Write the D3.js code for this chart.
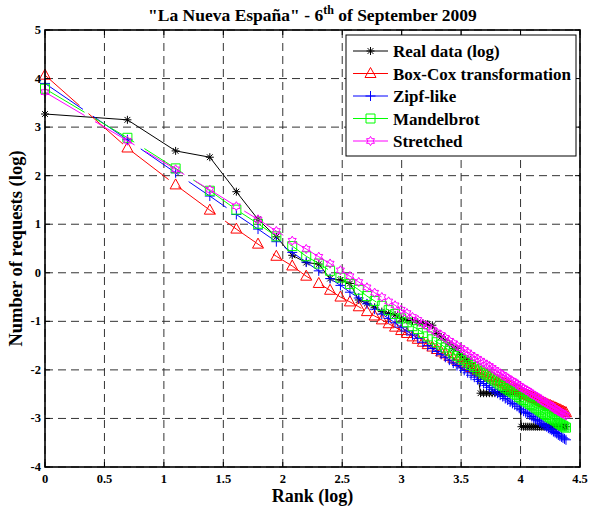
<!DOCTYPE html>
<html><head><meta charset="utf-8">
<script src="https://cdn.jsdelivr.net/npm/d3@7"></script>
<style>body{margin:0;background:#fff}</style></head>
<body><svg id="c" width="590" height="512"></svg>
<script>
const ranks = [1,2,3,4,5,6,7,8,9,10,11,12,13,14,15,16,17,18,19,20,
21,22,23,24,25,26,27,28,29,30,31,32,33,34,35,36,37,38,39,40,
41,42,43,44,45,46,47,48,49,50,51,52,53,54,55,56,57,58,59,60,
61,62,63,64,65,66,67,68,69,70,71,72,73,74,75,76,77,78,79,80];

const realData = [3.27,3.15,2.51,2.38,1.67,1.10,0.74,0.36,0.21,0.18,
-0.12,-0.15,-0.22,-0.56,-0.63,-0.71,-0.80,-0.84,-0.87,-0.94,
-0.98,-0.99,-1.02,-1.04,-1.06,-1.08,-1.25,-1.32,-1.39,-1.47,
-1.56,-1.56,-1.68,-1.78,-1.78,-1.92,-2.07,-2.07,-2.48,-2.48,
-2.48,-2.48,-2.48,-2.48,-2.48,-2.48,-2.48,-2.48,-2.48,-2.48,
-2.48,-2.48,-2.48,-2.48,-3.17,-3.17,-3.17,-3.17,-3.17,-3.17,
-3.17,-3.17,-3.17,-3.17,-3.17,-3.17,-3.17,-3.17,-3.17,-3.17,
-3.17,-3.17,-3.17,-3.17,-3.17,-3.17,-3.17,-3.17,-3.17,-3.17];

const boxCox = [4.07,2.57,1.81,1.29,0.90,0.59,0.34,0.14,-0.07,-0.22,
-0.36,-0.50,-0.60,-0.70,-0.80,-0.89,-0.97,-1.05,-1.12,-1.19,
-1.25,-1.32,-1.37,-1.43,-1.48,-1.53,-1.58,-1.63,-1.67,-1.72,
-1.76,-1.80,-1.84,-1.87,-1.91,-1.95,-1.98,-2.01,-2.05,-2.08,
-2.11,-2.14,-2.16,-2.19,-2.22,-2.24,-2.27,-2.29,-2.32,-2.34,
-2.37,-2.39,-2.41,-2.43,-2.46,-2.48,-2.50,-2.52,-2.54,-2.56,
-2.58,-2.59,-2.61,-2.63,-2.65,-2.67,-2.68,-2.70,-2.72,-2.73,
-2.75,-2.76,-2.78,-2.79,-2.81,-2.82,-2.84,-2.85,-2.87,-2.88];

const zipfLike = [3.90,2.74,2.06,1.58,1.20,0.90,0.64,0.42,0.22,0.04,
-0.12,-0.26,-0.40,-0.52,-0.64,-0.75,-0.85,-0.94,-1.03,-1.12,
-1.20,-1.28,-1.35,-1.43,-1.50,-1.56,-1.62,-1.68,-1.74,-1.80,
-1.86,-1.91,-1.96,-2.01,-2.06,-2.11,-2.15,-2.20,-2.24,-2.28,
-2.32,-2.36,-2.40,-2.44,-2.48,-2.52,-2.55,-2.59,-2.62,-2.66,
-2.69,-2.72,-2.75,-2.79,-2.82,-2.85,-2.88,-2.90,-2.93,-2.96,
-2.99,-3.02,-3.04,-3.07,-3.10,-3.12,-3.15,-3.17,-3.20,-3.22,
-3.24,-3.27,-3.29,-3.31,-3.34,-3.36,-3.38,-3.40,-3.42,-3.44];

const mandelbrot = [3.79,2.78,2.15,1.69,1.30,1.01,0.75,0.55,0.34,0.19,
0.04,-0.10,-0.23,-0.35,-0.48,-0.58,-0.68,-0.77,-0.85,-0.94,
-1.02,-1.10,-1.16,-1.24,-1.31,-1.37,-1.43,-1.48,-1.54,-1.60,
-1.66,-1.71,-1.76,-1.80,-1.85,-1.90,-1.94,-1.99,-2.03,-2.07,
-2.10,-2.14,-2.18,-2.22,-2.26,-2.30,-2.33,-2.37,-2.40,-2.43,
-2.46,-2.49,-2.52,-2.56,-2.59,-2.62,-2.65,-2.67,-2.70,-2.72,
-2.75,-2.78,-2.80,-2.83,-2.86,-2.88,-2.91,-2.93,-2.96,-2.98,
-3.00,-3.02,-3.04,-3.06,-3.09,-3.11,-3.13,-3.15,-3.17,-3.19];

const stretched = [3.72,2.72,2.13,1.71,1.37,1.10,0.86,0.66,0.49,0.33,
0.19,0.05,-0.07,-0.19,-0.30,-0.41,-0.50,-0.59,-0.67,-0.76,
-0.83,-0.91,-0.97,-1.05,-1.11,-1.17,-1.23,-1.28,-1.34,-1.40,
-1.45,-1.50,-1.55,-1.59,-1.64,-1.69,-1.73,-1.77,-1.81,-1.85,
-1.89,-1.92,-1.96,-2.00,-2.04,-2.07,-2.10,-2.14,-2.17,-2.21,
-2.23,-2.26,-2.29,-2.33,-2.36,-2.38,-2.41,-2.43,-2.46,-2.49,
-2.52,-2.54,-2.56,-2.59,-2.62,-2.64,-2.67,-2.69,-2.71,-2.73,
-2.75,-2.78,-2.80,-2.82,-2.85,-2.86,-2.88,-2.90,-2.92,-2.94];

const seriesNames = ["Real data (log)","Box-Cox transformation","Zipf-like","Mandelbrot","Stretched"];
const seriesColors = ["#000000","#ff0000","#0000ff","#00ff00","#ff00ff"];
const seriesMarkers = ["asterisk","triangle","plus","square","hexagram"];
const seriesDashed = [false,true,true,true,true];
const xTickLabels = ["0","0.5","1","1.5","2","2.5","3","3.5","4","4.5"];
const xTickValues = [0,0.5,1,1.5,2,2.5,3,3.5,4,4.5];
const yTickValues = [-4,-3,-2,-1,0,1,2,3,4,5];

const FONT = "'Liberation Serif','Times New Roman',serif";
const svg = d3.select("#c");
const L = 45, R = 580, T = 30, B = 467;

// rank axis on natural log
const x = d3.scaleLog().base(Math.E).domain([1, Math.exp(4.5)]).range([L, R]);
const y = d3.scaleLinear().domain([-4, 5]).range([B, T]);

svg.append("rect").attr("x",0).attr("y",0).attr("width",590).attr("height",512).attr("fill","#fff");

// grid
const grid = svg.append("g");
xTickValues.forEach(t => {
  const px = x(Math.exp(t));
  grid.append("line").attr("x1",px).attr("x2",px).attr("y1",T).attr("y2",B)
    .attr("stroke","#333").attr("stroke-width",1).attr("stroke-dasharray","8,5");
});
yTickValues.forEach(t => {
  const py = y(t);
  grid.append("line").attr("x1",L).attr("x2",R).attr("y1",py).attr("y2",py)
    .attr("stroke","#333").attr("stroke-width",1).attr("stroke-dasharray","8,5");
});

// markers
function markerPath(type){
  const p = d3.path();
  if(type==="asterisk"){
    const r=4, a=r*0.72;
    p.moveTo(-r,0);p.lineTo(r,0);p.moveTo(0,-r);p.lineTo(0,r);
    p.moveTo(-a,-a);p.lineTo(a,a);p.moveTo(-a,a);p.lineTo(a,-a);
  } else if(type==="triangle"){
    p.moveTo(0,-6);p.lineTo(5.5,4);p.lineTo(-5.5,4);p.closePath();
  } else if(type==="plus"){
    const r=5;
    p.moveTo(-r,0);p.lineTo(r,0);p.moveTo(0,-r);p.lineTo(0,r);
  } else if(type==="square"){
    p.rect(-4.5,-4.5,9,9);
  } else if(type==="hexagram"){
    const Ro=4.6, Ri=Ro/Math.sqrt(3);
    for(let k=0;k<12;k++){
      const ang = -Math.PI/2 + k*Math.PI/6;
      const rr = (k%2===0)?Ro:Ri;
      const px = rr*Math.cos(ang), py = rr*Math.sin(ang);
      if(k===0)p.moveTo(px,py);else p.lineTo(px,py);
    }
    p.closePath();
  }
  return p.toString();
}

const allSeries = [realData, boxCox, zipfLike, mandelbrot, stretched];
const line = d3.line().x(d=>x(d.r)).y(d=>y(d.v));
const plot = svg.append("g");
allSeries.forEach((vals,i)=>{
  const data = ranks.map((r,j)=>({r, v: vals[j]}));
  const g = plot.append("g");
  g.append("path").datum(data).attr("d",line).attr("fill","none")
    .attr("stroke",seriesColors[i]).attr("stroke-width",1)
    .attr("stroke-dasharray", seriesDashed[i] ? "46,12" : null);
  const mp = markerPath(seriesMarkers[i]);
  g.selectAll("path.m").data(data).enter().append("path").attr("class","m")
    .attr("d",mp).attr("transform",d=>`translate(${x(d.r)},${y(d.v)})`)
    .attr("fill","none").attr("stroke",seriesColors[i]).attr("stroke-width",1);
});

// frame and ticks
const ax = svg.append("g");
xTickValues.forEach(t=>{
  const px = x(Math.exp(t));
  ax.append("line").attr("x1",px).attr("x2",px).attr("y1",B).attr("y2",B-5).attr("stroke","#000");
  ax.append("line").attr("x1",px).attr("x2",px).attr("y1",T).attr("y2",T+5).attr("stroke","#000");
});
yTickValues.forEach(t=>{
  const py = y(t);
  ax.append("line").attr("x1",L).attr("x2",L+5).attr("y1",py).attr("y2",py).attr("stroke","#000");
  ax.append("line").attr("x1",R).attr("x2",R-5).attr("y1",py).attr("y2",py).attr("stroke","#000");
});
ax.append("rect").attr("x",L).attr("y",T).attr("width",R-L).attr("height",B-T)
  .attr("fill","none").attr("stroke","#000").attr("stroke-width",1.6);

// tick labels
xTickValues.forEach((t,i)=>{
  ax.append("text").attr("x",x(Math.exp(t))).attr("y",B+16).attr("text-anchor","middle")
    .attr("font-family",FONT).attr("font-weight","bold").attr("font-size",12.5).text(xTickLabels[i]);
});
yTickValues.forEach(t=>{
  ax.append("text").attr("x",L-4).attr("y",y(t)+4).attr("text-anchor","end")
    .attr("font-family",FONT).attr("font-weight","bold").attr("font-size",12.5).text(String(t));
});

// axis labels
svg.append("text").attr("x",(L+R)/2).attr("y",502).attr("text-anchor","middle")
  .attr("font-family",FONT).attr("font-weight","bold").attr("font-size",18).text("Rank (log)");
svg.append("text").attr("transform",`translate(22,${(T+B)/2}) rotate(-90)`).attr("text-anchor","middle")
  .attr("font-family",FONT).attr("font-weight","bold").attr("font-size",18.5).text("Number of requests (log)");

// title
const title = svg.append("text").attr("x",(L+R)/2).attr("y",21).attr("text-anchor","middle")
  .attr("font-family",FONT).attr("font-weight","bold").attr("font-size",17.5);
title.append("tspan").text('"La Nueva España" - 6');
title.append("tspan").attr("dy",-7).attr("font-size",12).text("th");
title.append("tspan").attr("dy",7).text(" of September 2009");

// legend
const lg = svg.append("g");
lg.append("rect").attr("x",346).attr("y",35).attr("width",230).attr("height",121)
  .attr("fill","#fff").attr("stroke","#000").attr("stroke-width",1);
seriesNames.forEach((name,i)=>{
  const ly = 51 + i*22.5;
  lg.append("line").attr("x1",353).attr("x2",388).attr("y1",ly).attr("y2",ly)
    .attr("stroke",seriesColors[i]).attr("stroke-width",1);
  lg.append("path").attr("d",markerPath(seriesMarkers[i])).attr("transform",`translate(370.5,${ly})`)
    .attr("fill","none").attr("stroke",seriesColors[i]).attr("stroke-width",1);
  lg.append("text").attr("x",393).attr("y",ly+6).attr("font-family",FONT).attr("font-weight","bold")
    .attr("font-size",17).text(name);
});
</script></body></html>
